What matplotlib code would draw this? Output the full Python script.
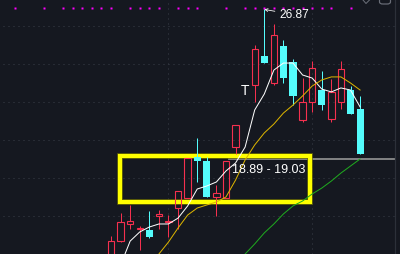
import numpy as np
import matplotlib
matplotlib.use("Agg")
import matplotlib.pyplot as plt
from matplotlib.patches import Rectangle, FancyBboxPatch
import matplotlib.patheffects as pe

# ---------------- data ----------------
nan = np.nan
idx = list(range(27))
opens  = [13.58, 14.68, 15.58, 15.32, 15.26, 16.00, 15.68, 16.42, 16.95, 19.11, 18.89, 17.00, 16.95, 19.63, nan,
          22.89, 24.42, 23.00, 24.95, 24.10, 21.05, 22.00, 22.63, 21.10, 22.00, 22.63, 21.63]
highs  = [14.95, 16.16, 16.58, 15.47, 16.26, 16.32, 16.05, 17.32, 19.05, 20.11, 19.11, 17.63, 18.89, 20.79, nan,
          25.00, 26.87, 26.10, 25.26, 24.26, 23.26, 24.16, 23.63, 23.21, 24.16, 22.84, 22.32]
lows   = [13.40, 14.65, 15.32, 14.21, 14.84, 15.32, 14.90, 15.32, 16.95, 17.79, 17.00, 16.00, 16.95, 19.26, nan,
          22.00, 24.05, 22.90, 23.00, 21.84, 20.95, 21.47, 21.58, 20.95, 21.63, 21.37, 19.26]
closes = [14.68, 15.68, 15.74, 15.37, 14.90, 16.11, 15.74, 17.32, 19.05, 18.89, 17.00, 17.21, 18.89, 20.79, nan,
          24.79, 24.05, 25.53, 23.26, 22.32, 22.00, 23.79, 21.84, 22.53, 23.74, 21.37, 19.26]

ma5  = [nan, 13.42, 14.68, 15.16, 15.42, 15.58, 15.58, 15.89, 16.53, 17.42, 17.58, 17.79, 18.37, 18.79, 19.63,
        21.58, 22.42, 23.68, 24.05, 24.05, 23.42, 23.26, 22.68, 22.53, 22.74, 22.63, 21.74]
ma10 = [nan, nan, nan, nan, 13.37, 14.00, 14.63, 15.37, 16.05, 16.42, 16.58, 16.74, 17.00, 17.89, 18.95,
        19.74, 20.37, 20.84, 21.42, 21.84, 22.32, 22.84, 23.16, 23.32, 23.32, 23.00, 22.63]
ma20 = [nan] * 13 + [13.45, 14.00, 14.53, 15.11, 15.58, 16.11, 16.53, 16.79, 17.16, 17.47, 17.84, 18.26, 18.63, 19.00]

marker_idx = [-10, -7, -5, -4, -3, -2, -1, 0, 2, 3, 4, 5, 7, 8, 9, 12, 14, 15, 16, 17, 18, 19, 20, 21, 22, 23, 25]
high_label = "26.87"
high_idx = 16
t_idx = 14
t_price = 22.6
range_label = "18.89 - 19.03"
level_price = 19.0
grid_prices = [26, 24, 22, 20, 18, 16]
vgrid_idx = [6, 21]

# ---------------- style ----------------
BG = "#151820"
RED = "#f5304f"
CYAN = "#54fcfc"
YEL_MA = "#dcb400"
GREEN = "#1faa1f"
GRID = "#3a3e48"
PX = 0.72  # one pixel in points at dpi 100

fig = plt.figure(figsize=(4.0, 2.54), dpi=100, facecolor=BG)
ax = fig.add_axes([0, 0, 1, 1])
ax.set_facecolor(BG)
ax.set_xlim(-11.587, 30.167)
ax.set_ylim(14.0, 27.368)
ax.axis("off")

# grid
for g in grid_prices:
    ax.axhline(g, xmin=0.008, xmax=0.985, color=GRID, lw=1 * PX, ls=(0, (1, 4)), zorder=1)
for v in vgrid_idx:
    ax.axvline(v, color=GRID, lw=1 * PX, ls=(0, (1, 4)), zorder=1)
ax.axvline(29.6, color="#2c3039", lw=1.2 * PX, zorder=1)

# highlight box (below candles)
box = Rectangle((120 / 400, 1 - 202 / 254), 190 / 400, 46 / 254, transform=ax.transAxes,
                fill=False, edgecolor="#ffff00", lw=4 * PX, zorder=2.5,
                path_effects=[pe.Stroke(linewidth=5.5 * PX, foreground="#707000"), pe.Normal()])
ax.add_patch(box)

# level line
ax.axhline(level_price, xmin=0.5725, xmax=0.985, color="#8c8c8c", lw=1.8 * PX, zorder=2)

# candles
w = 0.66
for i, o, h, l, c in zip(idx, opens, highs, lows, closes):
    if np.isnan(o):
        continue
    top, bot = max(o, c), min(o, c)
    hgt = max(top - bot, 0.02)
    if c >= o:
        ax.vlines(i, top, h, color=RED, lw=1 * PX, zorder=3)
        ax.vlines(i, l, bot, color=RED, lw=1 * PX, zorder=3)
        ax.add_patch(Rectangle((i - w / 2, bot), w, hgt, fill=False, edgecolor=RED, lw=1.1 * PX, zorder=3))
    else:
        ax.vlines(i, l, h, color=CYAN, lw=1 * PX, zorder=3)
        ax.add_patch(Rectangle((i - w / 2 - 0.04, bot), w + 0.08, hgt, facecolor=CYAN, edgecolor="none", zorder=3))

# moving averages
ax.plot(idx, ma5, color="white", lw=1 * PX, zorder=4)
ax.plot(idx, ma10, color=YEL_MA, lw=1 * PX, zorder=4)
ax.plot(idx, ma20, color=GREEN, lw=1 * PX, zorder=4)

# magenta markers along top
ax.plot(marker_idx, [0.970] * len(marker_idx), ls="none", marker="s", ms=2.0, color="#ff00ff",
        mec="none", transform=ax.get_xaxis_transform(), zorder=5)

# high label
ax.annotate(high_label, xy=(high_idx, highs[high_idx]), xytext=(279 / 400, 1 - 14.5 / 254),
            textcoords="axes fraction", va="center", ha="left", color="white",
            fontsize=8.6, family="Liberation Sans",
            arrowprops=dict(arrowstyle="->", color="white", lw=0.8 * PX, shrinkA=1, shrinkB=0,
                            mutation_scale=5), zorder=6)

# T marker
ax.text(t_idx, t_price, "T", color="white", fontsize=10, family="Liberation Sans",
        ha="center", va="center", zorder=6)

ax.text(231.5 / 400, 1 - 170 / 254, range_label, transform=ax.transAxes, color="white",
        fontsize=9, family="Liberation Sans", ha="left", va="center", zorder=8)

# top-right icons (partially visible)
ax.plot([363 / 400, 366 / 400, 369.5 / 400], [1 - 0 / 254, 1 - 3.5 / 254, 1 - 0 / 254],
        transform=ax.transAxes, color="#6a6e78", lw=1 * PX, zorder=6, clip_on=False)
ax.add_patch(FancyBboxPatch((379.5 / 400, 1 - 4 / 254), 11 / 400, 8 / 254, boxstyle="round,pad=0,rounding_size=0.008",
                            transform=ax.transAxes, fill=False, edgecolor="#6a6e78", lw=1.2 * PX, zorder=6))

fig.savefig("out.png", dpi=100, facecolor=BG)
